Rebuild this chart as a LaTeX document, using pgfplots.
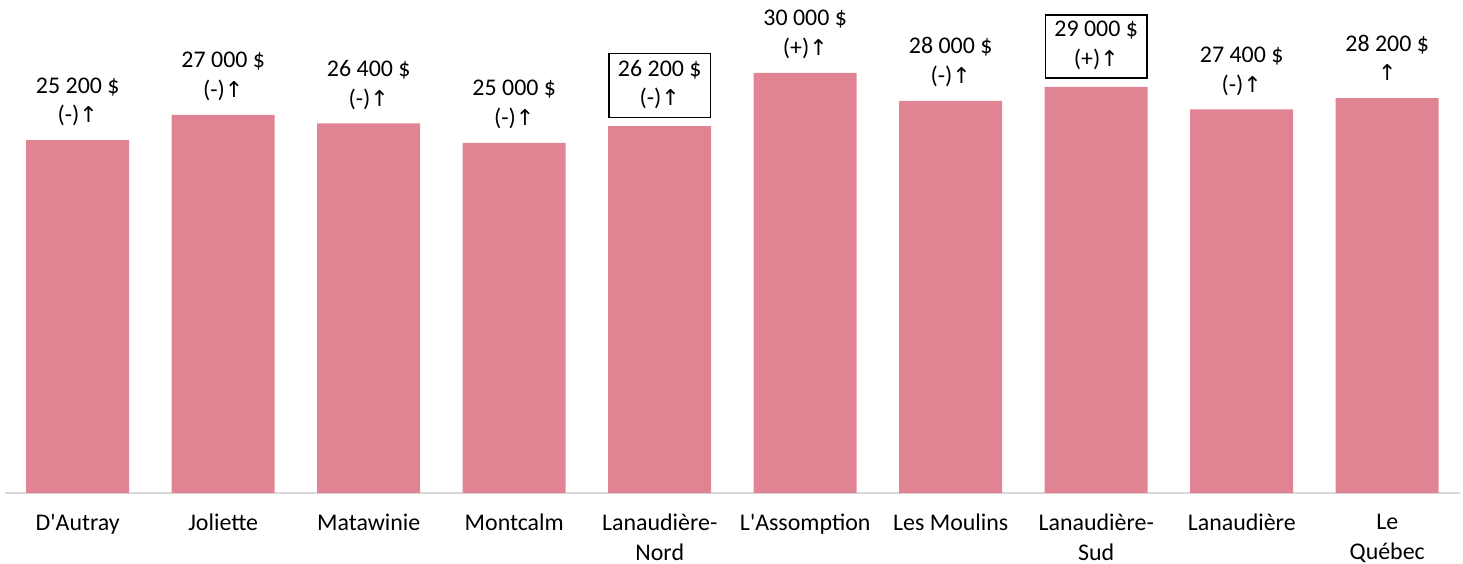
\documentclass[border=0pt]{standalone}
\usepackage{fontspec}
\setmainfont{Carlito}
\newfontfamily\arrowfont{DejaVu Sans}
\usepackage{pgfplots}
\pgfplotsset{compat=1.18}
\definecolor{barpink}{HTML}{E08494}
\definecolor{axisgray}{HTML}{D9D9D9}
\newcommand{\up}{{\arrowfont\fontsize{22}{30}\selectfont ↑}}
\newcommand{\ap}{\textquotesingle}

\begin{document}
\begin{tikzpicture}
\useasboundingbox (-5bp,-71bp) rectangle (1458bp,493bp);
\begin{axis}[
  scale only axis, width=1455bp, height=490bp,
  xmin=-0.5, xmax=9.5, ymin=0, ymax=35000,
  axis x line=bottom, axis y line=none,
  x axis line style={draw=axisgray, line width=1.5bp, -},
  xtick={0,...,9}, major tick length=0pt,
  xticklabels={D\ap Autray, Joliette, Matawinie, Montcalm, Lanaudière-\\Nord,
    L\ap Assomption, Les Moulins, Lanaudière-\\Sud, Lanaudière, Le\\Québec},
  xticklabel style={align=center, font=\fontsize{24}{30}\selectfont,
    inner sep=0pt, anchor=north, yshift=-21bp},
  ybar, bar width=103bp, bar shift=0pt,
  nodes near coords, point meta=explicit symbolic,
  every node near coord/.append style={align=center, font=\fontsize{24}{30}\selectfont,
    anchor=south, inner sep=2bp, text depth=5bp, yshift=10bp, text=black},
]
\addplot[fill=barpink, draw=none] coordinates {
  (0,25200) [{25 200 \$\\(-)\up}]
  (1,27000) [{27 000 \$\\(-)\up}]
  (2,26400) [{26 400 \$\\(-)\up}]
  (3,25000) [{25 000 \$\\(-)\up}]
  (5,30000) [{30 000 \$\\(+)\up}]
  (6,28000) [{28 000 \$\\(-)\up}]
  (8,27400) [{27 400 \$\\(-)\up}]
  (9,28200) [{28 200 \$\\\up}]
};
\addplot[fill=barpink, draw=none,
  nodes near coords style={draw=black, line width=1.5bp, inner xsep=9bp, inner ysep=6.5bp, yshift=-2bp}]
  coordinates {
  (4,26200) [{26 200 \$\\(-)\up}]
  (7,29000) [{29 000 \$\\(+)\up}]
};
\end{axis}
\end{tikzpicture}
\end{document}
